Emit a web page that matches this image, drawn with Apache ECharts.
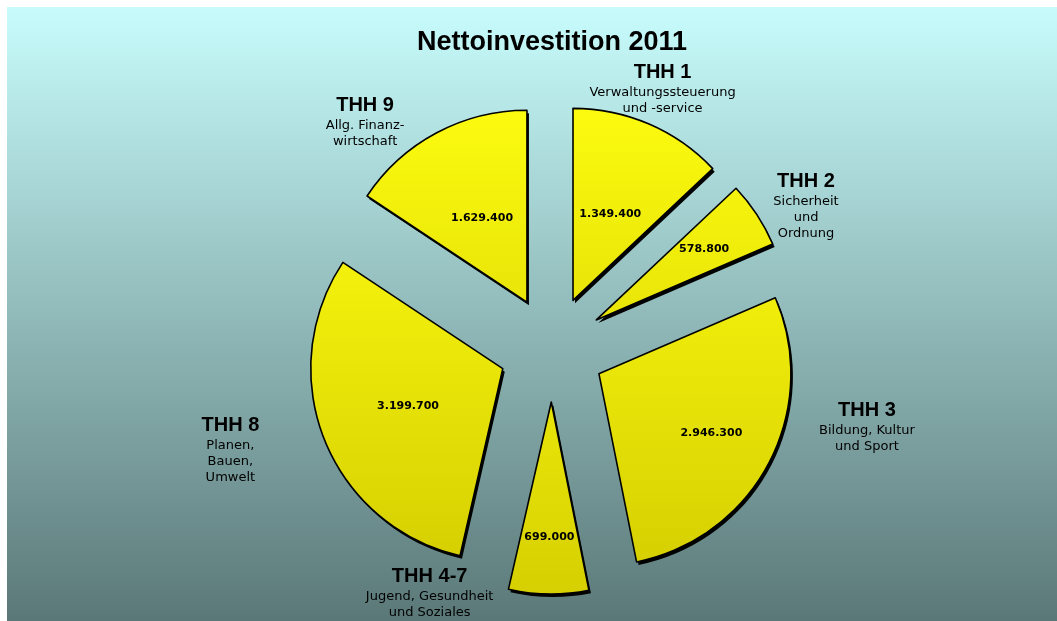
<!DOCTYPE html>
<html>
<head>
<meta charset="utf-8">
<script src="https://cdn.jsdelivr.net/npm/echarts@6/dist/echarts.min.js"></script>
<style>
  html, body { margin: 0; padding: 0; background: #fff; }
  #main { width: 1057px; height: 621px; }
</style>
</head>
<body>
<div id="main"></div>
<script>
// Daten
var names = ['THH 1', 'THH 2', 'THH 3', 'THH 4-7', 'THH 8', 'THH 9'];
var subs = [
    'Verwaltungssteuerung\nund -service',
    'Sicherheit\nund\nOrdnung',
    'Bildung, Kultur\nund Sport',
    'Jugend, Gesundheit\nund Soziales',
    'Planen,\nBauen,\nUmwelt',
    'Allg. Finanz-\nwirtschaft'
];
var values = [1349400, 578800, 2946300, 699000, 3199700, 1629400];

// Abstand der Beschriftungen (labelLine length / length2)
var labelLen = [39, 17, -79, -1, 27, 13];
var labelLen2 = [-2, 35, 168, 119, 69, 65];
// Abstand der Wertbeschriftungen
var valueLen = [-98, -63, -65, -57, -90, -97];

function fmt(v){
    return String(v).replace(/\B(?=(\d{3})+(?!\d))/g, '.');
}

var myChart = echarts.init(document.getElementById('main'));

var yellow = new echarts.graphic.LinearGradient(0, 120, 0, 590, [
    {offset: 0, color: '#ffff10'},
    {offset: 1, color: '#d2ca00'}
], true);

var center = [552, 349];
var radius = 192;
var offset = 53;

var fillStyle = {
    color: yellow,
    borderWidth: 0,
    shadowColor: '#000',
    shadowOffsetX: 2,
    shadowOffsetY: 3,
    shadowBlur: 0
};
var lineStyle = {
    color: 'rgba(0,0,0,0)',
    borderColor: '#000',
    borderWidth: 1.6
};

var outerData = names.map(function(n, i){
    return {
        name: n,
        value: values[i],
        selected: true,
        labelLine: {show: false, length: labelLen[i], length2: labelLen2[i]}
    };
});
var innerData = names.map(function(n, i){
    return {
        name: n,
        value: values[i],
        selected: true,
        labelLine: {show: false, length: valueLen[i], length2: 0}
    };
});

var option = {
    animation: false,
    graphic: [{
        type: 'rect',
        z: -10,
        shape: {x: 7, y: 7, width: 1050, height: 614},
        style: {
            fill: new echarts.graphic.LinearGradient(0, 0, 0, 1, [
                {offset: 0, color: '#c8fcfc'},
                {offset: 1, color: '#5b7878'}
            ])
        }
    }],
    title: {
        text: 'Nettoinvestition 2011',
        left: 547,
        top: 24,
        textAlign: 'center',
        textStyle: {
            fontFamily: 'Liberation Sans',
            fontSize: 27,
            fontWeight: 'bold',
            color: '#000'
        }
    },
    series: [
        {
            name: 'Nettoinvestition',
            type: 'pie',
            center: center,
            radius: radius,
            startAngle: 90,
            selectedMode: 'multiple',
            selectedOffset: offset,
            avoidLabelOverlap: false,
            silent: true,
            emphasis: {disabled: true},
            itemStyle: fillStyle,
            select: {itemStyle: fillStyle},
            label: {
                show: true,
                position: 'outside',
                distanceToLabelLine: 0,
                formatter: function(p){
                    return '{t|' + p.name + '}\n{s|' + subs[p.dataIndex] + '}';
                },
                rich: {
                    t: {
                        fontFamily: 'Liberation Sans',
                        fontSize: 20,
                        fontWeight: 'bold',
                        color: '#000',
                        lineHeight: 24,
                        align: 'center'
                    },
                    s: {
                        fontFamily: 'DejaVu Sans',
                        fontSize: 13,
                        color: '#000',
                        lineHeight: 16,
                        align: 'center'
                    }
                }
            },
            labelLayout: function(){
                return {align: 'center', verticalAlign: 'middle'};
            },
            data: outerData
        },
        {
            name: 'Werte',
            type: 'pie',
            center: center,
            radius: radius,
            startAngle: 90,
            selectedMode: 'multiple',
            selectedOffset: offset,
            avoidLabelOverlap: false,
            silent: true,
            z: 5,
            emphasis: {disabled: true},
            itemStyle: lineStyle,
            select: {itemStyle: lineStyle},
            label: {
                show: true,
                position: 'outside',
                distanceToLabelLine: 0,
                formatter: function(p){ return fmt(p.value); },
                fontFamily: 'DejaVu Sans',
                fontSize: 11,
                fontWeight: 'bold',
                color: '#000'
            },
            labelLayout: function(){
                return {align: 'center', verticalAlign: 'middle'};
            },
            data: innerData
        }
    ]
};

myChart.setOption(option);
</script>
</body>
</html>
